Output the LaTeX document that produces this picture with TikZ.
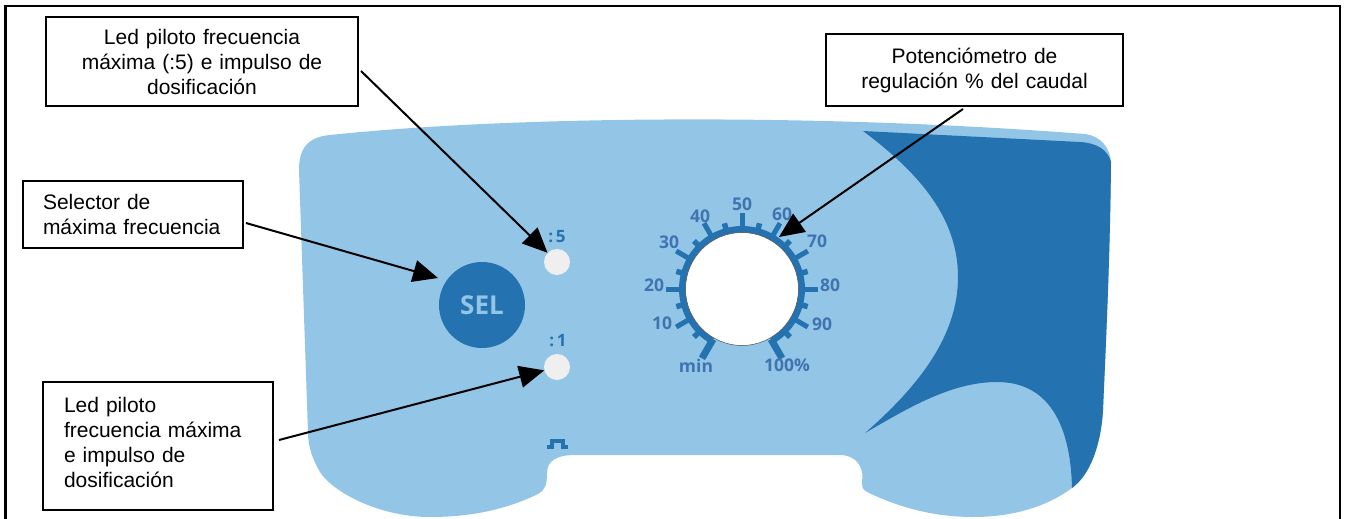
\documentclass[tikz,border=0pt]{standalone}
\usepackage{fontspec}
\setmainfont{Liberation Sans}
\newfontfamily\panelfont{Open Sans}
\usetikzlibrary{arrows.meta}
\definecolor{panelblue}{HTML}{93C6E6}
\definecolor{darkblue}{HTML}{2472B0}
\definecolor{scaletext}{HTML}{3F74B0}
\definecolor{ledgrey}{HTML}{EFEFEF}
\tikzset{
  callout/.style={draw=black,line width=1.6pt,fill=white,font=\fontsize{21}{25}\selectfont,inner ysep=0pt},
  arr/.style={line width=2pt,-{Triangle[length=25pt,width=22pt]}},
  scalelabel/.style={font=\panelfont\bfseries\fontsize{17.5}{18}\selectfont,text=scaletext,inner sep=0pt},
  ledmark/.style={font=\panelfont\bfseries\fontsize{17}{18}\selectfont,text=darkblue,inner sep=0pt},
  led/.style={circle,fill=ledgrey,inner sep=0pt,minimum size=26pt},
  major/.style={darkblue,line width=5pt},
  minor/.style={darkblue,line width=5.5pt},
  endtick/.style={darkblue,line width=7pt}
}
\begin{document}
\begin{tikzpicture}[x=1pt,y=-1pt]
\useasboundingbox (0,0) rectangle (1346,519);
\begin{scope}
\clip (0,0) rectangle (1346,519);
\draw[line width=2.4pt] (5.5,530) -- (5.5,6) -- (1340,6) -- (1340,530);
\end{scope}
% panel
\fill[panelblue] (299,170)
 .. controls (299,148) and (308,137) .. (330,135)
 .. controls (500,117) and (800,112) .. (1085,134)
 .. controls (1100,136) and (1111,147) .. (1111,165)
 .. controls (1110,260) and (1106,340) .. (1103,410)
 .. controls (1101,445) and (1090,475) .. (1072,488)
 .. controls (1045,508) and (1010,517) .. (973,517)
 .. controls (935,517) and (900,508) .. (867,492)
 .. controls (858,487) and (864,480) .. (862,472)
 .. controls (860,462) and (852,455) .. (840,455)
 -- (575,455)
 .. controls (555,455) and (547,462) .. (547,473)
 .. controls (547,485) and (545,490) .. (538,494)
 .. controls (505,510) and (470,517) .. (430,517)
 .. controls (385,517) and (340,497) .. (322,475)
 .. controls (312,460) and (308,445) .. (308,433)
 -- cycle;
% dark area
\fill[darkblue] (863,131) -- (1080,142)
 .. controls (1097,143) and (1108,150) .. (1111,162)
 .. controls (1110,260) and (1106,340) .. (1103,410)
 .. controls (1101,445) and (1090,475) .. (1072,488)
 .. controls (1071,445) and (1060,382) .. (997,382)
 .. controls (950,382) and (905,410) .. (865,433)
 .. controls (920,385) and (958,335) .. (958,277)
 .. controls (958,215) and (915,170) .. (863,131) -- cycle;
% scale
\coordinate (c) at (742,289);
\foreach \a in {-30,0,30,60,90,120,150,180,210}
  \draw[major] ({742+58*cos(\a)},{289-58*sin(\a)}) -- ({742+76*cos(\a)},{289-76*sin(\a)});
\foreach \a in {-45,-15,15,45,75,105,135,165,195,225}
  \draw[minor] ({742+58*cos(\a)},{289-58*sin(\a)}) -- ({742+68*cos(\a)},{289-68*sin(\a)});
\foreach \a in {-60,240}
  \draw[endtick] ({742+58*cos(\a)},{289-58*sin(\a)}) -- ({742+80*cos(\a)},{289-80*sin(\a)});
\draw[darkblue,line width=7pt] plot[domain=-60:240,samples=80,smooth] ({742+59.5*cos(\x)},{289-59.5*sin(\x)});
\node[circle,fill=white,draw=black!70,line width=.5pt,inner sep=0pt,minimum size=113pt] (knob) at (c) {};
\node[scalelabel] (l50) at (742,204) {50};
\node[scalelabel] (l40) at (700,216) {40};
\node[scalelabel] (l60) at (782,214) {60};
\node[scalelabel] (l30) at (669,242) {30};
\node[scalelabel] (l70) at (817,241) {70};
\node[scalelabel] (l20) at (654,285) {20};
\node[scalelabel] (l80) at (830,285) {80};
\node[scalelabel] (l10) at (662,323) {10};
\node[scalelabel] (l90) at (822,324) {90};
\node[scalelabel] (lmin) at (696,366) {min};
\node[scalelabel] (l100) at (787,365) {100\%};
% controls
\node[circle,fill=darkblue,inner sep=0pt,minimum size=86pt,text=panelblue,font=\panelfont\bfseries\fontsize{26}{27}\selectfont] (sel) at (482,305) {SEL};
\node[led] (led5) at (557,262) {};
\node[led] (led1) at (557,367) {};
\node[ledmark] (m5) at (557,237) {:\,5};
\node[ledmark] (m1) at (558,341) {:\,1};
\draw[darkblue,line width=4pt] (547,446.5) -- (552,446.5) -- (552,440.5) -- (563,440.5) -- (563,446.5) -- (568,446.5);
% callouts
\node[callout,align=center,text width=300pt,inner xsep=6pt,minimum height=89pt] (box1) at (202,61.5)
  {Led piloto frecuencia\\máxima (:5) e impulso de\\dosificación};
\node[callout,align=left,text width=180pt,inner xsep=20pt,minimum height=67pt] (box2) at (133,214.5)
  {Selector de\\máxima frecuencia};
\node[callout,align=left,text width=188pt,inner xsep=21pt,minimum height=128pt] (box3) at (158,446)
  {Led piloto\\frecuencia máxima\\e impulso de\\dosificación\\[-17pt]\mbox{}};
\node[callout,align=center,text width=285pt,inner xsep=6pt,minimum height=72pt] (box4) at (974.5,70)
  {Potenciómetro de\\regulación \% del caudal};
% connectors
\coordinate (s1) at (361,71);
\coordinate (s2) at (246,223);
\coordinate (e2) at (438,278);
\coordinate (s3) at (279,440);
\coordinate (s4) at (963,109);
\coordinate (e4) at (779,237);
\draw[arr] (s1) -- (led5);
\draw[arr] (s2) -- (e2);
\draw[arr] (s3) -- (led1);
\draw[arr] (s4) -- (e4);
\end{tikzpicture}
\end{document}
